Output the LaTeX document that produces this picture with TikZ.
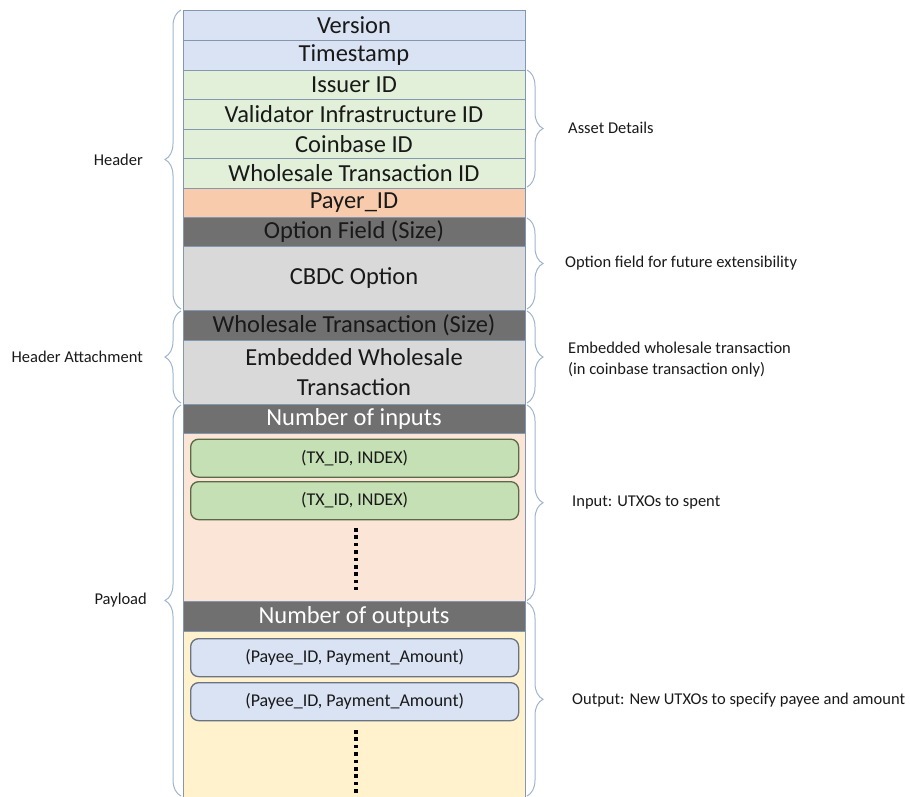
\documentclass[tikz,border=0pt]{standalone}
\usepackage{fontspec}
\setmainfont{Carlito}
\usetikzlibrary{decorations.pathreplacing}

\definecolor{rowline}{RGB}{132,151,176}
\definecolor{bluefill}{RGB}{218,227,243}
\definecolor{greenfill}{RGB}{226,240,217}
\definecolor{payerfill}{RGB}{248,203,173}
\definecolor{sizefill}{RGB}{112,112,112}
\definecolor{optfill}{RGB}{217,217,217}
\definecolor{infill}{RGB}{251,229,214}
\definecolor{outfill}{RGB}{255,242,204}
\definecolor{utxogreen}{RGB}{197,224,180}
\definecolor{utxoline}{RGB}{90,105,70}
\definecolor{payeeline}{RGB}{105,115,130}
\definecolor{bracecol}{RGB}{160,180,205}
\definecolor{ink}{RGB}{25,25,25}

\begin{document}
\begin{tikzpicture}[x=1pt,y=-1pt,
  field/.style={draw=rowline,line width=1pt,anchor=north west,minimum width=342pt,
    inner sep=0pt,outer sep=0pt,text=ink,font=\fontsize{24.5}{30}\selectfont},
  entry/.style={draw,line width=1.3pt,rounded corners=8pt,anchor=north west,
    minimum width=328pt,minimum height=38pt,inner sep=0pt,text=ink,
    font=\fontsize{18}{20}\selectfont},
  note/.style={anchor=west,inner sep=0pt,text=ink,align=left,
    font=\fontsize{16.5}{21}\selectfont},
  side/.style={anchor=east,inner sep=0pt,text=ink,font=\fontsize{16.5}{18}\selectfont},
  fieldbrace/.style={decorate,decoration={brace,amplitude=16pt,raise=2pt},
    draw=bracecol,line width=1pt},
  dotline/.style={line width=3.5pt,dash pattern=on 3.5pt off 3.9pt}]

    \clip (0,0) rectangle (910,796);

    % header
    \node[field,fill=bluefill,minimum height=30pt] (version) at (183,10) {Version};
    \node[field,fill=bluefill,minimum height=30pt] (stamp) at (183,40) {Timestamp};
    \node[field,fill=greenfill,minimum height=29.5pt] (issuer) at (183,70) {Issuer ID};
    \node[field,fill=greenfill,minimum height=29.5pt] (validator) at (183,99.5) {Validator Infrastructure ID};
    \node[field,fill=greenfill,minimum height=29.5pt] (coinbase) at (183,129) {Coinbase ID};
    \node[field,fill=greenfill,minimum height=29.5pt] (wtid) at (183,158.5) {Wholesale Transaction ID};
    \node[field,fill=payerfill,minimum height=29pt] (payer) at (183,188) {Payer\_ID};
    \node[field,fill=sizefill,minimum height=29.5pt] (optsize) at (183,217) {Option Field (Size)};
    \node[field,fill=optfill,minimum height=63.5pt] (cbdc) at (183,246.5) {CBDC Option};

    % header attachment
    \node[field,fill=sizefill,minimum height=30.5pt] (wsize) at (183,310) {Wholesale Transaction (Size)};
    \node[field,fill=optfill,minimum height=63.5pt,align=center] (embedded) at (183,340.5)
      {Embedded Wholesale\\Transaction};

    % payload
    \node[field,fill=sizefill,minimum height=29.5pt,text=white] (ninputs) at (183,404) {Number of inputs};
    \node[field,fill=infill,minimum height=168pt] (inarea) at (183,433.5) {};
    \node[entry,draw=utxoline,fill=utxogreen] (in1) at (190,438.5) {(TX\_ID, INDEX)};
    \node[entry,draw=utxoline,fill=utxogreen] (in2) at (190,481) {(TX\_ID, INDEX)};
    \draw[dotline] (356,528) -- (356,590);

    \node[field,fill=sizefill,minimum height=30pt,text=white] (noutputs) at (183,601.5) {Number of outputs};
    \node[field,fill=outfill,minimum height=170pt] (outarea) at (183,631.5) {};
    \node[entry,draw=payeeline,fill=bluefill] (out1) at (190,638) {(Payee\_ID, Payment\_Amount)};
    \node[entry,draw=payeeline,fill=bluefill] (out2) at (190,682) {(Payee\_ID, Payment\_Amount)};
    \draw[dotline] (356,730) -- (356,800);

    % left braces
    \draw[fieldbrace] ([yshift=1pt]cbdc.south west) -- (version.north west);
    \draw[fieldbrace] ([yshift=1pt]embedded.south west) -- ([yshift=-1pt]wsize.north west);
    \draw[fieldbrace] (183,796) -- ([yshift=-1pt]ninputs.north west);
    \node[side] (header) at (143,160) {Header};
    \node[side] (attach) at (143,357) {Header Attachment};
    \node[side] (payload) at (147,600) {Payload};

    % right braces
    \draw[fieldbrace] (issuer.north east) -- ([yshift=1pt]wtid.south east);
    \draw[fieldbrace] ([yshift=-1pt]optsize.north east) -- ([yshift=1pt]cbdc.south east);
    \draw[fieldbrace] ([yshift=-1pt]wsize.north east) -- ([yshift=1pt]embedded.south east);
    \draw[fieldbrace] ([yshift=-1pt]ninputs.north east) -- ([yshift=1pt]inarea.south east);
    \draw[fieldbrace] ([yshift=-1pt]noutputs.north east) -- (525,796);
    \node[note] (assets) at (568,128) {Asset Details};
    \node[note] (optnote) at (565,263) {Option field for future extensibility};
    \node[note] (embnote) at (568,360) {Embedded wholesale transaction\\(in coinbase transaction only)};
    \node[note] (innote) at (572,502) {Input: UTXOs to spent};
    \node[note] (outnote) at (572,700) {Output: New UTXOs to specify payee and amount};
\end{tikzpicture}
\end{document}
